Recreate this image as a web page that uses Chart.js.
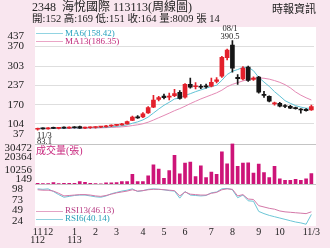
<!DOCTYPE html>
<html>
<head>
<meta charset="utf-8">
<title>2348 海悅國際 周線圖</title>
<script src="https://cdn.jsdelivr.net/npm/chart.js@4.4.1/dist/chart.umd.min.js"></script>
<style>
html,body{margin:0;padding:0;background:#f9e6ef;}
#wrap{position:relative;width:330px;height:248px;overflow:hidden;background:#f9e6ef;color:#222;font-family:"Liberation Serif","Noto Sans CJK TC",serif;}
#c{position:absolute;left:0;top:0;}
.t{position:absolute;white-space:pre;line-height:1;}
.s{position:absolute;height:0;border-top:1px solid;}
</style>
</head>
<body>
<div id="wrap">
<canvas id="c" width="330" height="248"></canvas>
<div class="t" style="left:32px;top:1px;font-size:12px;">2348  海悅國際 113113(周線圖)</div>
<div class="t" style="left:32px;top:14px;font-size:10.5px;">開:152 高:169 低:151 收:164 量:8009 張 14</div>
<div class="t" style="left:272px;top:3px;font-size:11px;font-family:'Noto Sans CJK TC',sans-serif;">時報資訊</div>

<div class="s" style="left:36px;top:33px;width:27px;border-color:#92d4e2;"></div>
<div class="t" style="left:65px;top:28.5px;font-size:9px;color:#2ba3bf;">MA6(158.42)</div>
<div class="s" style="left:36px;top:41px;width:27px;border-color:#eaa5c6;"></div>
<div class="t" style="left:65px;top:36.5px;font-size:9px;color:#c0287a;">MA13(186.35)</div>

<div class="t" style="left:200px;width:60px;text-align:center;top:23.5px;font-size:8.5px;">08/1</div>
<div class="t" style="left:200px;width:60px;text-align:center;top:31.5px;font-size:8.5px;">390.5</div>
<div class="t" style="left:37px;top:130.5px;font-size:8.5px;">11/3</div>
<div class="t" style="left:37px;top:136.5px;font-size:8.5px;">83.1</div>

<div class="t" style="left:36px;top:145.5px;font-size:10px;color:#c8287e;">成交量(張)</div>

<div class="s" style="left:36px;top:211px;width:27px;border-color:#e3a3c4;"></div>
<div class="t" style="left:65px;top:206px;font-size:9px;color:#b83c84;">RSI13(46.13)</div>
<div class="s" style="left:36px;top:219px;width:27px;border-color:#8fd0de;"></div>
<div class="t" style="left:65px;top:214px;font-size:9px;color:#2a9fb8;">RSI6(40.14)</div>
</div>

<script>
// ---- data (weekly) ----
const categories = ['2023/11/03','2023/11/10','2023/11/17','2023/11/24','2023/12/01','2023/12/08','2023/12/15','2023/12/22','2023/12/29',
  '2024/01/05','2024/01/12','2024/01/19','2024/01/26','2024/02/02','2024/02/09','2024/02/16','2024/02/23',
  '2024/03/01','2024/03/08','2024/03/15','2024/03/22','2024/03/29','2024/04/03','2024/04/12','2024/04/19','2024/04/26',
  '2024/05/03','2024/05/10','2024/05/17','2024/05/24','2024/05/31','2024/06/07','2024/06/14','2024/06/21','2024/06/28',
  '2024/07/05','2024/07/12','2024/07/19','2024/07/26','2024/08/02','2024/08/09','2024/08/16','2024/08/23','2024/08/30',
  '2024/09/06','2024/09/13','2024/09/20','2024/09/27','2024/10/04','2024/10/11','2024/10/18','2024/10/25','2024/11/01'];

const opens  = [86,89,87,91,89,91,90,93,95,90,91,92,93,94,97,99,101,104,116,129,128,142,162,188,200,196,201,213,196,240,232,232,235,234,250,268,332,375,264,259,299,257,265,205,199,173,175,166,165,160,153,154,152];
const highs  = [90,91,92,93,92,94,94,95,97,93,94,95,96,99,101,103,106,114,131,133,143,164,202,199,207,210,223,219,243,262,246,239,241,262,263,336,361,390.5,274,301,303,266,268,216,201,179,178,171,168,162,157,157,169];
const lows   = [83.1,86,86,88,87,89,89,90,89,88,89,90,91,93,95,97,100,103,115,123,126,140,160,183,190,187,198,189,193,227,224,225,227,231,245,264,324,282,240,255,250,254,210,195,180,169,163,160,157,155,141,148,151];
const closes = [89,87,91,89,91,90,93,91,90,91,92,93,94,97,99,101,104,112,128,125,139,160,186,195,194,198,208,192,240,230,234,230,231,247,256,333,358,296,260,296,254,262,213,202,182,176,165,164,158,157,152,150,164];

const ma6  = [89,89,89,89,89.5,89.5,90,90.5,90.5,90.8,91,91.2,91.8,92.5,94.2,95.8,97.8,101,106.5,111.3,118,127.8,141.5,155.3,168.2,178.5,190,193,202,208,215,221,227,233,237,254,274,285,291,298,299,287,264,248,233,215,200,184,175,167,162,158,158.42];
const ma13 = [88,88,88.5,88.5,89,89,89.5,89.5,90,90,90.3,90.5,90.8,91.3,92.2,93,94.2,95.8,98.6,101.2,104.8,110.2,117.5,125.5,133.2,141.2,149.7,156.8,165,174,182,190,197,204,211,220,232,240,246,252,257,261,262,261,258,253,247,239,228,214,203,194,186.35];

const volumes = [600,400,500,1160,500,600,650,600,1900,1400,600,400,300,1100,1100,1200,1900,1900,7480,1900,1900,6210,14550,11270,4450,10260,21630,7730,15820,16580,5710,13790,4950,8990,7480,24160,15310,30472,13290,15820,16070,8240,15060,8740,4950,13290,3940,2930,2930,3690,2930,3940,8009];

const rsi13 = [96,95,95,93,88,82,83,84,85,85,84,82,81,83,86,89,91,93,96,93,94,96,97,97,96,95,94,82,91,86,85,84,84,88,90,96,98,97,82,85,75,74,60,57,54,52,48,46,45,44,43,42,46.13];
const rsi6  = [98,97,98,92,85,79,81,83,84,84,82,80,79,82,87,90,93,95,98,92,94,97,98,97,96,94,93,77,92,84,83,82,83,89,91,98,99,96,78,84,71,70,47,42,38,35,32,29,26,23,21,18,40.14];

// ---- tick labels ----
const xTickLabels = [['11','112'],'','12','','','','',['1','113'],'','','','2','','','','3','','','','','4','','','','5','','','','6','','','','','7','','','','8','','','','','9','','','','10','','','','','','11/3'];
const mainTickLabels = ['37','104','170','237','303','370','437'];
const volTickLabels  = ['149','10256','20364','30472'];
const rsiTickLabels  = ['24','49','73','98'];

// ---- styles ----
const UP = '#e3202b', DOWN = '#161616';
const candleColor = c => (closes[c.dataIndex] >= opens[c.dataIndex] ? UP : DOWN);
const tickFont = {family: 'Liberation Serif', size: 11};

function labelTicks(labels, nudgeFirstPx, nudgeLastPx) {
  return function (scale) {
    const unit = (scale.max - scale.min) / (scale.height || 1);
    scale.ticks = labels.map((l, i) => {
      let v = Number(l);
      if (i === 0) v += nudgeFirstPx * unit;
      if (i === labels.length - 1) v -= nudgeLastPx * unit;
      return {value: v};
    });
  };
}
const fixWidth = s => { s.width = 35; };

const frame = {
  id: 'frame',
  beforeDraw(chart) {
    const {ctx, chartArea: a, scales} = chart;
    ctx.save();
    ctx.fillStyle = '#ffffff';
    ctx.fillRect(a.left, a.top, a.right - a.left + 2, a.bottom - a.top);
    ctx.strokeStyle = '#c4c4c4';
    ctx.lineWidth = 1;
    [scales.yVol.top, scales.yVol.bottom].forEach(y => {
      const yy = Math.round(y) + 0.5;
      ctx.beginPath(); ctx.moveTo(a.left, yy); ctx.lineTo(a.right + 2, yy); ctx.stroke();
    });
    ctx.restore();
  }
};

new Chart(document.getElementById('c'), {
  type: 'bar',
  data: {
    labels: categories,
    datasets: [
      {type: 'line', label: 'MA13', data: ma13, yAxisID: 'yMain', borderColor: '#e48ab5', borderWidth: 1, pointRadius: 0, tension: 0, order: 4},
      {type: 'line', label: 'MA6', data: ma6, yAxisID: 'yMain', borderColor: '#62c3d6', borderWidth: 1, pointRadius: 0, tension: 0, order: 3},
      {type: 'bar', label: 'wick', data: lows.map((l, i) => [l, highs[i]]), yAxisID: 'yMain', backgroundColor: candleColor, barThickness: 1, grouped: false, order: 1},
      {type: 'bar', label: 'body', data: opens.map((o, i) => [o, closes[i]]), yAxisID: 'yMain', backgroundColor: candleColor, barThickness: 4, minBarLength: 1, grouped: false, order: 0},
      {type: 'bar', label: '成交量', data: volumes, yAxisID: 'yVol', backgroundColor: '#cd1478', barThickness: 3, grouped: false, order: 2},
      {type: 'line', label: 'RSI13', data: rsi13, yAxisID: 'yRsi', borderColor: '#d478a8', borderWidth: 1, pointRadius: 0, tension: 0, order: 5},
      {type: 'line', label: 'RSI6', data: rsi6, yAxisID: 'yRsi', borderColor: '#6cc6d6', borderWidth: 1, pointRadius: 0, tension: 0, order: 6}
    ]
  },
  options: {
    responsive: false,
    animation: false,
    devicePixelRatio: 1,
    layout: {padding: {top: 27, right: 16, left: 0, bottom: 0}},
    plugins: {legend: {display: false}, tooltip: {enabled: false}},
    scales: {
      x: {
        type: 'category', offset: true,
        grid: {display: false, drawTicks: false}, border: {display: false},
        ticks: {autoSkip: false, maxRotation: 0, minRotation: 0, padding: 2, color: '#222',
          font: {family: 'Liberation Serif', size: 10, lineHeight: 0.85},
          callback: (v, i) => xTickLabels[i]},
        afterFit: s => { s.height = 22; }
      },
      yMain: {
        position: 'left', stack: 'panels', stackWeight: 116.5, weight: 3,
        min: 37, max: 437,
        afterBuildTicks: labelTicks(mainTickLabels, 5, 5),
        afterFit: fixWidth,
        grid: {drawTicks: false, color: c => (c.index === 0 || c.index === mainTickLabels.length - 1) ? 'rgba(0,0,0,0)' : '#dedede'},
        border: {display: false},
        ticks: {autoSkip: false, padding: 11, color: '#222', font: tickFont, callback: (v, i) => mainTickLabels[i]}
      },
      yVol: {
        position: 'left', stack: 'panels', stackWeight: 40.5, weight: 2,
        min: 149, max: 30472,
        afterBuildTicks: labelTicks(volTickLabels, 2.5, 2.5),
        afterFit: fixWidth,
        grid: {display: false, drawTicks: false},
        border: {display: false},
        ticks: {autoSkip: false, padding: 3, color: '#222', font: tickFont, callback: (v, i) => volTickLabels[i]}
      },
      yRsi: {
        position: 'left', stack: 'panels', stackWeight: 42, weight: 1,
        min: 14, max: 109,
        afterBuildTicks: labelTicks(rsiTickLabels, 0, 0),
        afterFit: fixWidth,
        grid: {display: false, drawTicks: false},
        border: {display: false},
        ticks: {autoSkip: false, padding: 12, color: '#222', font: tickFont, callback: (v, i) => rsiTickLabels[i]}
      }
    }
  },
  plugins: [frame]
});
</script>
</body>
</html>
